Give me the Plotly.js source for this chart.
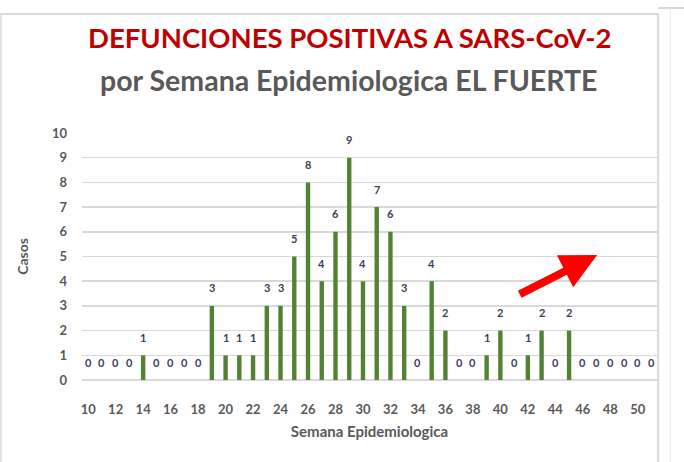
<!DOCTYPE html>
<html>
<head>
<meta charset="utf-8">
<script src="https://cdn.plot.ly/plotly-3.0.1.min.js"></script>
<style>html,body{margin:0;padding:0;background:#fff;}#chart{width:684px;height:462px;}</style>
</head>
<body>
<div id="chart"></div>
<script>
const semanas = [10,11,12,13,14,15,16,17,18,19,20,21,22,23,24,25,26,27,28,29,30,31,32,33,34,35,36,37,38,39,40,41,42,43,44,45,46,47,48,49,50,51];
const casos   = [0,0,0,0,1,0,0,0,0,3,1,1,1,3,3,5,8,4,6,9,4,7,6,3,0,4,2,0,0,1,2,0,1,2,0,2,0,0,0,0,0,0];
const tickVals = [10,12,14,16,18,20,22,24,26,28,30,32,34,36,38,40,42,44,46,48,50];
const titleLine1 = "DEFUNCIONES POSITIVAS A SARS-CoV-2";
const titleLine2 = "por Semana Epidemiologica EL FUERTE";
const xTitle = "Semana Epidemiologica";
const yTitle = "Casos";

const FONT = "Lato, 'Open Sans', sans-serif";
const trace = {
  type: 'bar',
  x: semanas,
  y: casos,
  marker: {color: '#548235'},
  width: 0.32,
  hoverinfo: 'x+y'
};

const labelAnns = semanas.map((s, i) => ({
  xref: 'x', yref: 'y', x: s, y: casos[i], text: String(casos[i]),
  showarrow: false, yanchor: 'middle', xanchor: 'center', yshift: 18,
  font: {family: FONT, size: 11, color: '#3d3d58', weight: 'bold'}
}));

const layout = {
  width: 684, height: 462,
  margin: {l: 82, r: 27, t: 133, b: 82},
  paper_bgcolor: '#ffffff',
  plot_bgcolor: '#ffffff',
  showlegend: false,
  font: {family: FONT},
  xaxis: {
    range: [9.55, 51.4],
    tickmode: 'array',
    tickvals: tickVals,
    ticktext: tickVals.map(String),
    showgrid: false,
    zeroline: false,
    showline: false,
    ticks: '',
    ticklabelstandoff: 20,
    tickfont: {family: FONT, size: 13, color: '#595959', weight: 'bold'},
    title: {text: xTitle, font: {family: FONT, size: 15, color: '#595959', weight: 'bold'}, standoff: 10}
  },
  yaxis: {
    range: [0, 10],
    dtick: 1,
    showgrid: true,
    gridcolor: '#d9d9d9',
    gridwidth: 1.5,
    zeroline: true,
    zerolinecolor: '#d9d9d9',
    zerolinewidth: 1.5,
    ticks: '',
    ticklabelstandoff: 14,
    tickfont: {family: FONT, size: 13, color: '#595959', weight: 'bold'},
    title: {text: yTitle, font: {family: FONT, size: 14, color: '#595959', weight: 'bold'}, standoff: 20}
  },
  annotations: labelAnns.concat([
    {xref: 'paper', yref: 'paper', x: 0.466, y: 1.385, text: titleLine1, showarrow: false,
     font: {family: FONT, size: 27.5, color: '#c00000', weight: 'bold'}, xanchor: 'center', yanchor: 'middle'},
    {xref: 'paper', yref: 'paper', x: 0.463, y: 1.215, text: titleLine2, showarrow: false,
     font: {family: FONT, size: 28.5, color: '#595959', weight: 'bold'}, xanchor: 'center', yanchor: 'middle'},
    {xref: 'paper', yref: 'paper', x: 0.896, y: 0.506, text: '', showarrow: true,
     axref: 'pixel', ayref: 'pixel', ax: -79, ay: 40,
     arrowcolor: '#ff0000', arrowwidth: 8, arrowhead: 2, arrowsize: 0.9}
  ]),
  shapes: [
    {type: 'line', xref: 'paper', yref: 'paper', x0: -0.143, x1: 1.002, y0: 1.482, y1: 1.482, line: {color: '#d9d9d9', width: 2}},
    {type: 'line', xref: 'paper', yref: 'paper', x0: -0.141, x1: -0.141, y0: 1.482, y1: -0.34, line: {color: '#e3e3e3', width: 2}},
    {type: 'line', xref: 'paper', yref: 'paper', x0: 1.002, x1: 1.002, y0: 1.482, y1: -0.34, line: {color: '#d9d9d9', width: 2}},
    {type: 'line', xref: 'paper', yref: 'paper', x0: 1.002, x1: 1.06, y0: 1.506, y1: 1.506, line: {color: '#d9d9d9', width: 2}},
    {type: 'line', xref: 'paper', yref: 'paper', x0: 1.023, x1: 1.023, y0: 1.506, y1: -0.34, line: {color: '#e6e6e6', width: 1}}
  ]
};

Plotly.newPlot('chart', [trace], layout, {displayModeBar: false, staticPlot: true});
</script>
</body>
</html>
